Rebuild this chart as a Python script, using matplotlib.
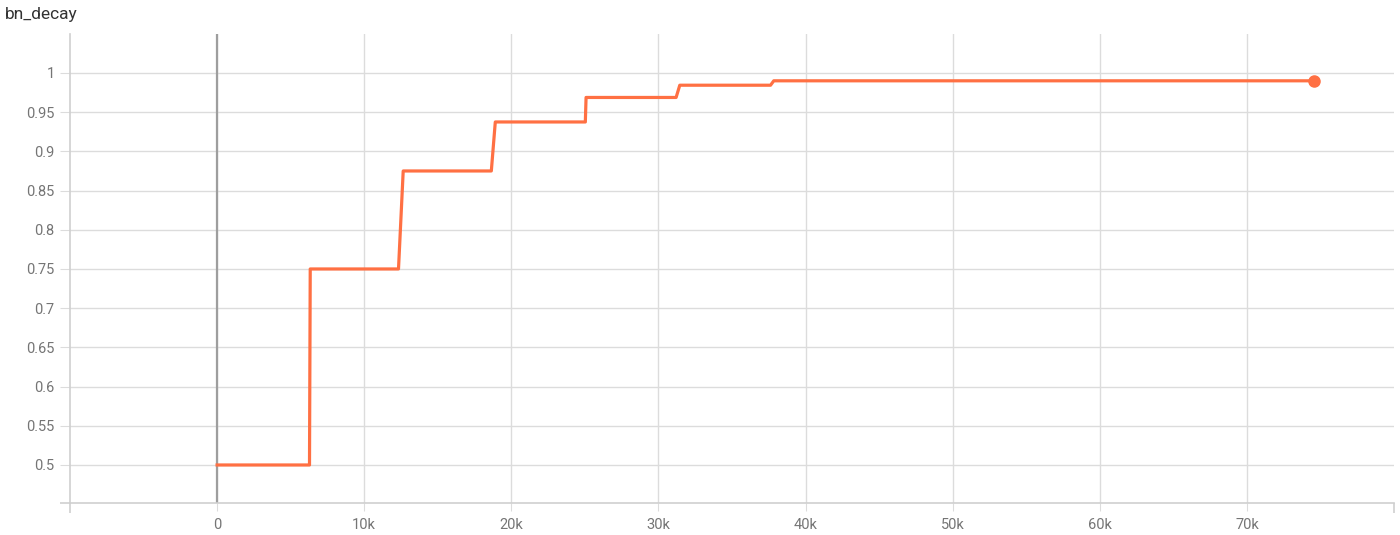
import numpy as np
import matplotlib
matplotlib.use("Agg")
import matplotlib.pyplot as plt
from matplotlib.ticker import FuncFormatter

# step values (x in steps, y = bn_decay)
steps = [0, 6280, 6330, 12330, 12650, 18640, 18910, 25030, 25080,
         31200, 31450, 37620, 37840, 74560]
bn_decay = [0.5, 0.5, 0.75, 0.75, 0.875, 0.875, 0.9375, 0.9375, 0.96875,
            0.96875, 0.984375, 0.984375, 0.99, 0.99]

yticks = [0.5, 0.55, 0.6, 0.65, 0.7, 0.75, 0.8, 0.85, 0.9, 0.95, 1]
xticks = [0, 10000, 20000, 30000, 40000, 50000, 60000, 70000]

plt.rcParams['font.family'] = ['Roboto', 'DejaVu Sans']

fig = plt.figure(figsize=(14, 5.35), dpi=100)
ax = fig.add_axes([70/1400, 32/535, 1324/1400, 469/535])

grid_c = '#dcdcdc'
ax.set_xlim(-10000, 80000)
ax.set_ylim(0.4515, 1.0497)

ax.set_yticks(yticks)
ax.set_xticks(xticks)
ax.yaxis.set_major_formatter(FuncFormatter(lambda v, p: ('%g' % round(v, 2))))
ax.xaxis.set_major_formatter(FuncFormatter(lambda v, p: '0' if v == 0 else '%dk' % (v / 1000)))

ax.grid(True, color=grid_c, lw=1)
ax.set_axisbelow(True)
ax.axvline(0, color='#9e9e9e', lw=1.6, zorder=1)

for s in ['top', 'right']:
    ax.spines[s].set_visible(False)
for s in ['left', 'bottom']:
    ax.spines[s].set_color('#cfcfcf')
    ax.spines[s].set_linewidth(1.2)

ax.tick_params(axis='y', length=7, color=grid_c, labelsize=10.5, labelcolor='#757575', pad=4)
ax.tick_params(axis='x', length=6, color=grid_c, labelsize=10.5, labelcolor='#757575', pad=5)
# outer ticks at the axis ends
ax.set_xticks([-10000, 80000], minor=True)
ax.set_yticks([0.4515], minor=True)
ax.tick_params(axis='x', which='minor', length=7, color='#cfcfcf', width=1.2)
ax.tick_params(axis='y', which='minor', length=7, color='#cfcfcf', width=1.2)

ax.plot(steps, bn_decay, color='#ff7043', lw=2.3, zorder=3)
ax.plot(steps[-1], bn_decay[-1], 'o', color='#ff7043', ms=8, zorder=4)

fig.text(5/1400, 1 - 14/535, 'bn_decay', fontsize=12.5, color='#333333', va='center', ha='left')

fig.savefig('out.png', dpi=100)
